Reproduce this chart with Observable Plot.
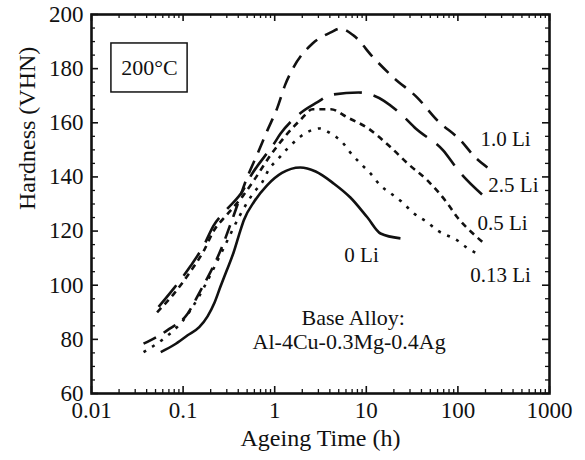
<!DOCTYPE html>
<html><head><meta charset="utf-8">
<script src="https://cdn.jsdelivr.net/npm/d3@7"></script>
<script src="https://cdn.jsdelivr.net/npm/@observablehq/plot@0.6"></script>
<style>body{margin:0;background:#fff} svg text{font-family:"Liberation Serif","Times New Roman",serif !important}</style>
</head><body><div id="chart"></div>
<script>
// Series: ageing time (h) and hardness (VHN)
const li0_t = [0.057,0.08,0.112,0.15,0.185,0.22,0.256,0.3,0.355,0.42,0.46,0.6,0.83,1.2,1.9,2.8,4.4,6.7,10.3,14.3,23.6];
const li0_h = [75.3,78,81.5,84.5,88.5,93.5,99.5,105.5,112,120,124,131,137,141.5,143.5,142,137.6,132.4,125,119.1,117.3];

const li013_t = [0.037,0.06,0.1,0.15,0.2,0.28,0.42,0.59,0.73,0.85,1.1,1.38,2.46,3.1,4.1,5.5,6.7,8.6,11.1,14.3,18.5,24.8,32,46.5,60,99,125,176];
const li013_h = [75.3,80,87,96,104,114,126,134.2,138,142.4,146.8,150.5,157.1,157.9,156,152.7,149,145,141.3,136.8,133.9,130.6,126.9,123.2,120.2,116.5,113.9,111];

const li05_t = [0.052,0.08,0.12,0.17,0.215,0.3,0.45,0.6,0.9,1.3,1.9,2.6,4.1,6.2,10.5,18.5,28.2,46.5,77,99,146,188];
const li05_h = [90,97,105,113,120,126,133,139,148,155,161,165,165,162,157.9,150.9,145,138.7,130.2,125,119.1,115.8];

const li10_t = [0.037,0.067,0.112,0.155,0.2,0.256,0.35,0.5,0.65,0.83,1.07,1.3,1.6,2.59,4.1,5.2,7.3,12,19.8,36,60,107,155,210];
const li10_h = [78.4,83.3,89.5,98,105,112.8,125,139.8,148.6,157.1,165.6,174,180.4,189.3,193.4,194.8,192.2,184,176.7,169.3,160.8,153.5,147.2,143.5];

const li25_t = [0.054,0.08,0.12,0.17,0.215,0.3,0.45,0.54,0.97,1.16,1.9,2.9,4.1,8.2,12,23.6,34.6,69,101,200];
const li25_h = [92,99,107,115,122,128,135,140,152,156,163.5,167.5,170.3,171.2,170.1,163.4,157.9,149.8,142.4,132.4];

const seriesNames = ["0 Li","0.13 Li","0.5 Li","1.0 Li","2.5 Li"];
const seriesT = [li0_t, li013_t, li05_t, li10_t, li25_t];
const seriesH = [li0_h, li013_h, li05_h, li10_h, li25_h];
const seriesDash = ["none","3,7","6,5","14,9","28,12"];

// Curve labels
const labelText = ["1.0 Li","2.5 Li","0.5 Li","0.13 Li","0 Li"];
const labelX = [331, 404, 307, 292, 8.87];
const labelY = [153.8, 136.8, 122.8, 103.6, 111];

// Axis ticks
const xMajor = [0.01,0.1,1,10,100,1000];
const xMajorLabels = ["0.01","0.1","1","10","100","1000"];
const xMinor = [0.02,0.03,0.04,0.05,0.06,0.07,0.08,0.09,0.2,0.3,0.4,0.5,0.6,0.7,0.8,0.9,2,3,4,5,6,7,8,9,20,30,40,50,60,70,80,90,200,300,400,500,600,700,800,900];
const yMajor = [60,80,100,120,140,160,180,200];
const yMinor = [65,70,75,85,90,95,105,110,115,125,130,135,145,150,155,165,170,175,185,190,195];

const W = 585, H = 460, mL = 91, mR = 36, mT = 14, mB = 67;
const iw = W - mL - mR, ih = H - mT - mB;

const rows = seriesNames.flatMap((name, i) => seriesT[i].map((t, j) => ({name, t, h: seriesH[i][j]})));
const xTickRows = xMajor.map((v, i) => ({v, label: xMajorLabels[i]}));

const font = '"Liberation Serif", "Times New Roman", serif';

const lineMarks = seriesNames.map((name, i) =>
  Plot.line(rows.filter(r => r.name === name), {
    x: "t", y: "h", curve: "monotone-x", stroke: "#111",
    strokeWidth: 2.6, strokeDasharray: seriesDash[i] === "none" ? null : seriesDash[i],
    strokeLinecap: "butt"
  })
);

const chart = Plot.plot({
  width: W, height: H,
  marginLeft: mL, marginRight: mR, marginTop: mT, marginBottom: mB,
  style: {fontFamily: font, fontSize: "22px", color: "#111", background: "#fff"},
  x: {type: "log", domain: [0.01, 1000], axis: null},
  y: {domain: [60, 200], axis: null},
  marks: [
    // inward ticks, bottom/top
    Plot.ruleX(xMajor, {x: d => d, insetTop: ih - 7, stroke: "#111", strokeWidth: 1.6}),
    Plot.ruleX(xMajor, {x: d => d, insetBottom: ih - 7, stroke: "#111", strokeWidth: 1.6}),
    Plot.ruleX(xMinor, {x: d => d, insetTop: ih - 4, stroke: "#111", strokeWidth: 1.3}),
    Plot.ruleX(xMinor, {x: d => d, insetBottom: ih - 4, stroke: "#111", strokeWidth: 1.3}),
    Plot.ruleY(yMajor, {y: d => d, insetRight: iw - 7, stroke: "#111", strokeWidth: 1.6}),
    Plot.ruleY(yMajor, {y: d => d, insetLeft: iw - 7, stroke: "#111", strokeWidth: 1.6}),
    Plot.ruleY(yMinor, {y: d => d, insetRight: iw - 4, stroke: "#111", strokeWidth: 1.3}),
    Plot.ruleY(yMinor, {y: d => d, insetLeft: iw - 4, stroke: "#111", strokeWidth: 1.3}),
    // tick labels
    Plot.text(xTickRows, {x: "v", frameAnchor: "bottom", text: "label", dy: 24, fontSize: 23, fontFamily: font}),
    Plot.axisY(yMajor, {anchor: "left", tickSize: 0, tickPadding: 8, fontSize: 23, fontFamily: font, label: null}),
    Plot.text(["Ageing Time (h)"], {frameAnchor: "bottom", dy: 52, fontSize: 24, fontFamily: font}),
    Plot.text(["Hardness (VHN)"], {frameAnchor: "left", dx: -64, dy: 6, rotate: -90, fontSize: 24, fontFamily: font}),
    ...lineMarks,
    Plot.text(labelText, {x: (d, i) => labelX[i], y: (d, i) => labelY[i], text: d => d, fontSize: 21, fontFamily: font}),
    // annotation box
    Plot.rect([0], {x1: 0.0165, x2: 0.112, y1: 171.2, y2: 189.3, fill: "none", stroke: "#111", strokeWidth: 1.5}),
    Plot.text(["200°C"], {x: 0.043, y: 180.4, fontSize: 22, fontFamily: font}),
    Plot.text(["Base Alloy:"], {x: 7.2, y: 88, fontSize: 22, fontFamily: font}),
    Plot.text(["Al-4Cu-0.3Mg-0.4Ag"], {x: 6.5, y: 79, fontSize: 22, fontFamily: font}),
    Plot.frame({stroke: "#111", strokeWidth: 2.6})
  ]
});
document.getElementById("chart").appendChild(chart);
</script>
</body></html>
